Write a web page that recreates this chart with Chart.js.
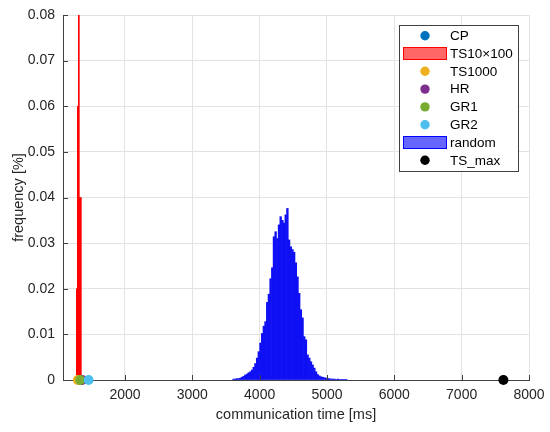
<!DOCTYPE html>
<html>
<head>
<meta charset="utf-8">
<script src="https://cdn.jsdelivr.net/npm/chart.js@4.4.1/dist/chart.umd.min.js"></script>
<style>
  html, body { margin: 0; padding: 0; background: #fff; }
  #wrap { width: 550px; height: 432px; }
</style>
</head>
<body>
<div id="wrap"><canvas id="histChart" width="550" height="432"></canvas></div>
<script>
// x axis ticks (ms) and y axis range (%)
const xTicks = [2000, 3000, 4000, 5000, 6000, 7000, 8000];
const xMin = 1080, xMax = 8000;
const yMax = 0.08;

// TS10x100 histogram: bin centres (ms) and frequency (%)
const tsBins = [1285, 1300, 1315, 1330, 1345];
const tsFreq = [0.020, 0.060, 0.115, 0.040, 0.040];

// random histogram: bin centres (ms) and frequency (%)
const randomBins = [
  3612.5, 3637.5, 3662.5, 3687.5, 3712.5, 3737.5, 3762.5, 3787.5, 3812.5, 3837.5,
  3862.5, 3887.5, 3912.5, 3937.5, 3962.5, 3987.5, 4012.5, 4037.5, 4062.5, 4087.5,
  4112.5, 4137.5, 4162.5, 4187.5, 4212.5, 4237.5, 4262.5, 4287.5, 4312.5, 4337.5,
  4362.5, 4387.5, 4412.5, 4437.5, 4462.5, 4487.5, 4512.5, 4537.5, 4562.5, 4587.5,
  4612.5, 4637.5, 4662.5, 4687.5, 4712.5, 4737.5, 4762.5, 4787.5, 4812.5, 4837.5,
  4862.5, 4887.5, 4912.5, 4937.5, 4962.5, 4987.5, 5012.5, 5037.5, 5062.5, 5087.5,
  5112.5, 5137.5, 5162.5, 5187.5, 5212.5, 5237.5, 5262.5, 5287.5
];
const randomFreq = [
  0.0002, 0.0002, 0.0003, 0.0003, 0.0004, 0.0006, 0.0008, 0.0011, 0.0013, 0.0016,
  0.0018, 0.0022, 0.0028, 0.0036, 0.0048, 0.0062, 0.0081, 0.0102, 0.0118, 0.0128,
  0.0170, 0.0188, 0.0222, 0.0246, 0.0314, 0.0325, 0.0310, 0.0340, 0.0358, 0.0350,
  0.0344, 0.0362, 0.0376, 0.0307, 0.0292, 0.0286, 0.0280, 0.0257, 0.0226, 0.0190,
  0.0154, 0.0136, 0.0095, 0.0088, 0.0055, 0.0048, 0.0040, 0.0033, 0.0026, 0.0018,
  0.0012, 0.0009, 0.0007, 0.0006, 0.0005, 0.0004, 0.0003, 0.0003, 0.0002, 0.0002,
  0.0002, 0.0001, 0.0002, 0.0001, 0.0001, 0.0001, 0.0001, 0.0001
];

// single results (communication time in ms, plotted at 0 %)
const cpTime = 1320;
const ts1000Time = 1300;
const hrTime = 1365;
const gr1Time = 1335;
const gr2Time = 1460;
const tsMaxTime = 7620;

const fontFamily = '"Liberation Sans", Arial, Helvetica, sans-serif';
const axisColor = "#404040";
const gridColor = "#e3e3e3";

Chart.defaults.font.family = fontFamily;
Chart.defaults.color = "#262626";

function dot(label, t, color, z) {
  return {
    type: "scatter",
    label: label,
    data: [{ x: t, y: 0 }],
    backgroundColor: color,
    borderColor: color,
    borderWidth: 0,
    pointRadius: 5,
    pointHoverRadius: 5,
    clip: false,
    order: z,
  };
}

function hist(label, bins, freq, face, edge, legendFill, z) {
  return {
    type: "bar",
    label: label,
    data: bins.map((b, i) => ({ x: b, y: freq[i] })),
    backgroundColor: face,
    borderColor: edge,
    borderWidth: 0,
    barThickness: "flex",
    barPercentage: 1,
    categoryPercentage: 1,
    stack: "hist",
    clip: 0,
    order: z,
    legendFill: legendFill,
  };
}

// inward ticks + boxed legend like the original figure
const figureBits = {
  id: "figureBits",
  afterDraw(chart) {
    const ctx = chart.ctx;
    const area = chart.chartArea;
    const xs = chart.scales.x;
    const ys = chart.scales.y;
    ctx.save();
    ctx.strokeStyle = axisColor;
    ctx.lineWidth = 1;
    ctx.beginPath();
    xs.ticks.forEach((t) => {
      const px = Math.round(xs.getPixelForValue(t.value)) + 0.5;
      ctx.moveTo(px, area.bottom);
      ctx.lineTo(px, area.bottom - 5);
    });
    ys.ticks.forEach((t) => {
      const py = Math.round(ys.getPixelForValue(t.value)) + 0.5;
      ctx.moveTo(area.left, py);
      ctx.lineTo(area.left + 5, py);
    });
    ctx.stroke();

    // legend
    const boxW = 119, boxH = 146;
    const bx = Math.round(area.right - 11 - boxW);
    const by = Math.round(area.top + 10);
    ctx.fillStyle = "#fff";
    ctx.fillRect(bx, by, boxW, boxH);
    ctx.strokeStyle = axisColor;
    ctx.strokeRect(bx + 0.5, by + 0.5, boxW, boxH);
    ctx.font = "13.5px " + fontFamily;
    ctx.textBaseline = "middle";
    ctx.textAlign = "left";
    chart.data.datasets.forEach((ds, i) => {
      const cy = by + 10.7 + i * 17.8;
      const cx = bx + 26;
      if (ds.type === "bar") {
        ctx.fillStyle = ds.legendFill;
        ctx.fillRect(cx - 21.5, cy - 6, 43, 12);
        ctx.strokeStyle = ds.borderColor;
        ctx.strokeRect(cx - 21.5, cy - 6, 43, 12);
      } else {
        ctx.fillStyle = ds.backgroundColor;
        ctx.beginPath();
        ctx.arc(cx, cy, 4.7, 0, Math.PI * 2);
        ctx.fill();
      }
      ctx.fillStyle = "#000";
      ctx.fillText(ds.label, bx + 51, cy + 0.5);
    });
    ctx.restore();
  },
};

new Chart(document.getElementById("histChart"), {
  type: "bar",
  data: {
    datasets: [
      dot("CP", cpTime, "#0072BD", 7),
      hist("TS10×100", tsBins, tsFreq, "rgb(255, 0, 0)", "rgb(255, 0, 0)", "rgb(255, 102, 102)", 6),
      dot("TS1000", ts1000Time, "#EDB120", 5),
      dot("HR", hrTime, "#7E2F8E", 4),
      dot("GR1", gr1Time, "#77AC30", 3),
      dot("GR2", gr2Time, "#4DBEEE", 2),
      hist("random", randomBins, randomFreq, "rgb(16, 16, 245)", "rgb(0, 0, 255)", "rgb(102, 102, 255)", 8),
      dot("TS_max", tsMaxTime, "#000000", 1),
    ],
  },
  options: {
    responsive: false,
    animation: false,
    devicePixelRatio: 1,
    events: [],
    layout: { padding: { top: 15, right: 21, left: 0, bottom: 0 } },
    plugins: {
      legend: { display: false },
      tooltip: { enabled: false },
    },
    scales: {
      x: {
        type: "linear",
        min: xMin,
        max: xMax,
        offset: false,
        afterBuildTicks: (s) => {
          s.ticks = xTicks.map((v) => ({ value: v }));
        },
        afterFit: (s) => {
          s.height = 52;
          s.paddingLeft = 0;
          s.paddingRight = 0;
        },
        grid: { color: gridColor, drawTicks: false, offset: false },
        border: { color: axisColor },
        ticks: {
          padding: 7,
          font: { size: 14 },
          maxRotation: 0,
          autoSkip: false,
          callback: (v) => String(v),
        },
        title: {
          display: true,
          text: "communication time [ms]",
          font: { size: 14.5 },
          padding: { top: 0, bottom: 8 },
        },
      },
      y: {
        type: "linear",
        min: 0,
        max: yMax,
        stacked: false,
        afterFit: (s) => {
          s.width = 63;
          s.paddingTop = 0;
          s.paddingBottom = 0;
        },
        grid: { color: gridColor, drawTicks: false },
        border: { color: axisColor },
        ticks: {
          stepSize: 0.01,
          padding: 8,
          font: { size: 14 },
          callback: (v) => (v === 0 ? "0" : v.toFixed(2)),
        },
        title: {
          display: true,
          text: "frequency [%]",
          font: { size: 14.5 },
          padding: { top: 10, bottom: 0 },
        },
      },
    },
  },
  plugins: [figureBits],
});
</script>
</body>
</html>
